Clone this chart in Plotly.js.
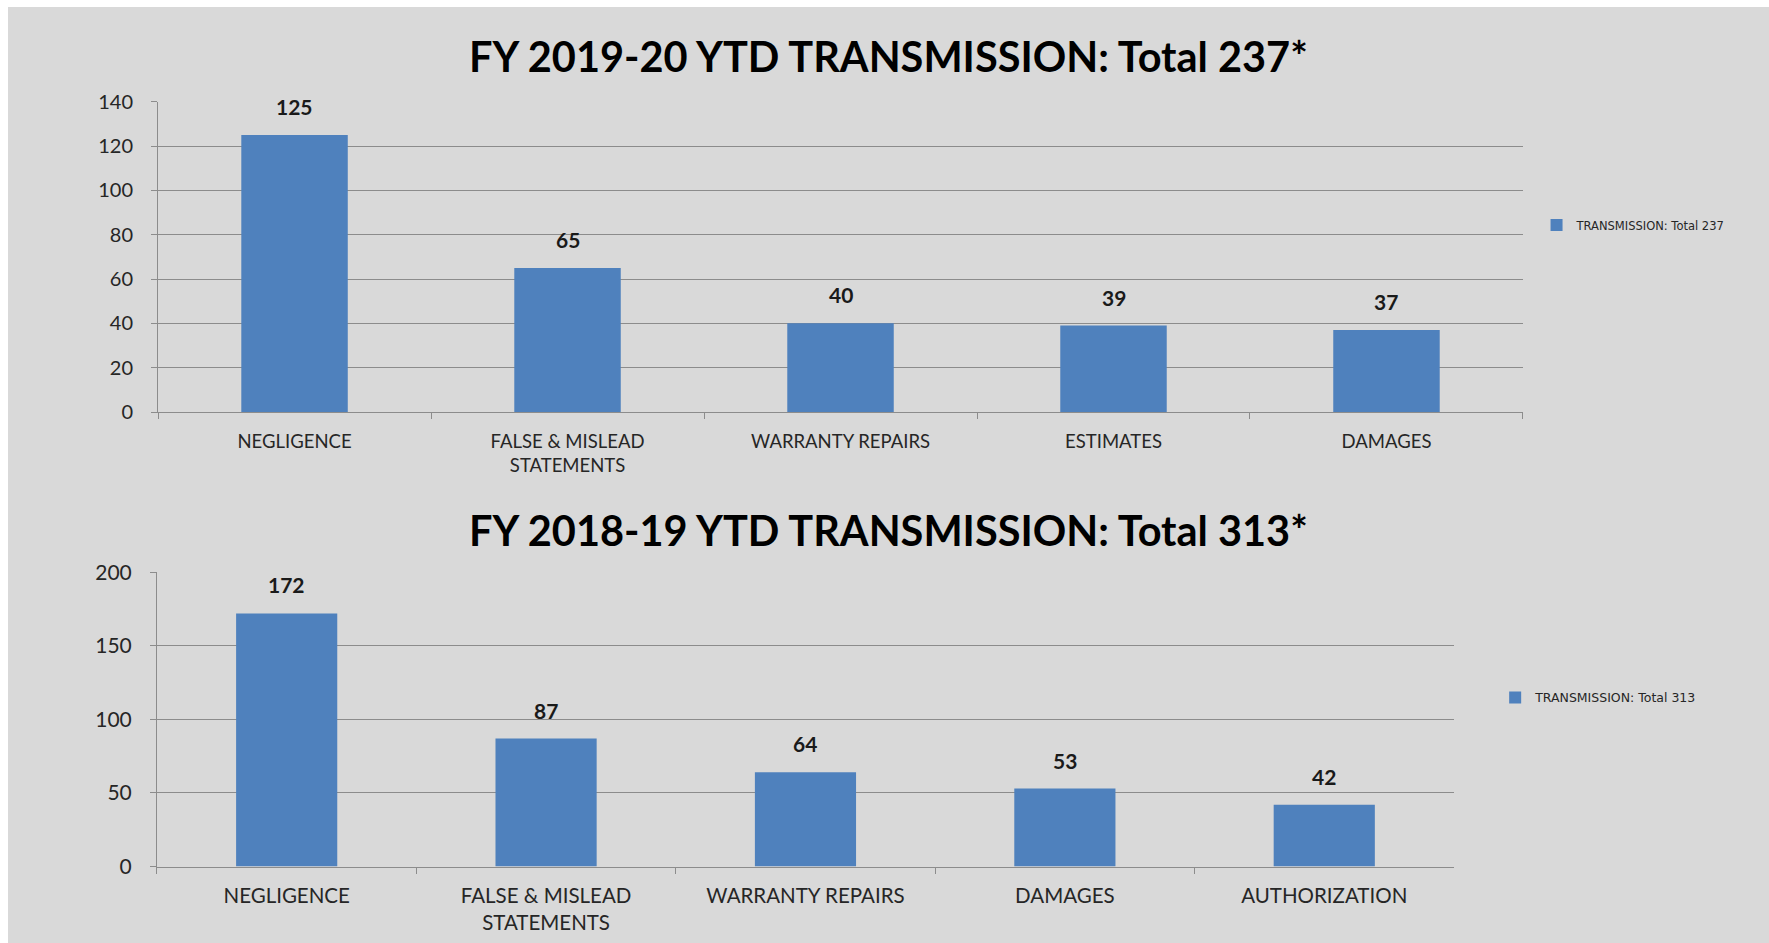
<!DOCTYPE html>
<html>
<head>
<meta charset="utf-8">
<script src="https://cdn.plot.ly/plotly-3.0.1.min.js"></script>
<style>
    body { margin: 0; background: #ffffff; }
    #transmissionChart { position: absolute; left: 8px; top: 7px; width: 1761px; height: 936px; }
</style>
</head>
<body>
<div id="transmissionChart"></div>
<script>
// FY 2019-20 (top chart)
var categories1920 = ['NEGLIGENCE', 'FALSE & MISLEAD<br>STATEMENTS', 'WARRANTY REPAIRS', 'ESTIMATES', 'DAMAGES'];
var values1920 = [125, 65, 40, 39, 37];
var title1920 = 'FY 2019-20 YTD TRANSMISSION: Total 237*';
var legend1920 = 'TRANSMISSION: Total 237';

// FY 2018-19 (bottom chart)
var categories1819 = ['NEGLIGENCE', 'FALSE & MISLEAD<br>STATEMENTS', 'WARRANTY REPAIRS', 'DAMAGES', 'AUTHORIZATION'];
var values1819 = [172, 87, 64, 53, 42];
var title1819 = 'FY 2018-19 YTD TRANSMISSION: Total 313*';
var legend1819 = 'TRANSMISSION: Total 313';

var barColor = '#4F81BD';
var gridColor = '#8c8c8c';
var textColor = '#262626';

function valueLabels(cats, vals, xref, yref) {
    var out = [];
    for (var i = 0; i < cats.length; i++) {
        out.push({
            x: cats[i], y: vals[i], xref: xref, yref: yref,
            text: String(vals[i]), showarrow: false,
            yanchor: 'bottom', yshift: 14,
            font: { family: 'Lato, sans-serif', size: 21, color: '#1a1a1a', weight: 'bold' }
        });
    }
    return out;
}

function drawCharts() {
    var config = { responsive: false, displayModeBar: false };

    var trace1 = {
        x: categories1920, y: values1920, name: legend1920, type: 'bar',
        xaxis: 'x', yaxis: 'y', legend: 'legend',
        marker: { color: barColor }, hoverinfo: 'skip'
    };
    var trace2 = {
        x: categories1819, y: values1819, name: legend1819, type: 'bar',
        xaxis: 'x2', yaxis: 'y2', legend: 'legend2',
        marker: { color: barColor }, hoverinfo: 'skip'
    };

    var xCommon = {
        type: 'category', showline: true, linecolor: gridColor, linewidth: 1,
        ticks: 'outside', tickson: 'boundaries', ticklen: 6, tickcolor: gridColor,
        showgrid: false, zeroline: false
    };
    var yCommon = {
        showline: true, linecolor: gridColor, linewidth: 1,
        ticks: 'outside', ticklen: 6, tickcolor: gridColor,
        gridcolor: gridColor, gridwidth: 1, zeroline: false, ticklabelstandoff: 14
    };

    var titleFont = { family: 'Lato, sans-serif', size: 41.5, color: '#000000' };
    var annotations = [
        { text: '<b>' + title1920 + '</b>', xref: 'paper', yref: 'paper', x: 0.5, y: 0.9476,
          xanchor: 'center', yanchor: 'middle', showarrow: false, font: titleFont },
        { text: '<b>' + title1819 + '</b>', xref: 'paper', yref: 'paper', x: 0.5, y: 0.4412,
          xanchor: 'center', yanchor: 'middle', showarrow: false, font: titleFont }
    ];
    annotations = annotations.concat(valueLabels(categories1920, values1920, 'x', 'y'));
    annotations = annotations.concat(valueLabels(categories1819, values1819, 'x2', 'y2'));

    var layout = {
        width: 1761, height: 936,
        margin: { l: 0, r: 0, t: 0, b: 0 },
        paper_bgcolor: '#d9d9d9', plot_bgcolor: '#d9d9d9',
        font: { family: 'Lato, sans-serif', color: textColor },
        bargap: 0.61,
        showlegend: true,
        xaxis: Object.assign({}, xCommon, { domain: [0.0852, 0.8603], anchor: 'y',
            ticklabelstandoff: 13, tickfont: { size: 18.5, color: textColor } }),
        yaxis: Object.assign({}, yCommon, { domain: [0.5673, 0.8988], anchor: 'x',
            range: [0, 140], dtick: 20, tickfont: { size: 20, color: textColor } }),
        xaxis2: Object.assign({}, xCommon, { domain: [0.0846, 0.8211], anchor: 'y2',
            ticklabelstandoff: 11, tickfont: { size: 20.5, color: textColor } }),
        yaxis2: Object.assign({}, yCommon, { domain: [0.0817, 0.3961], anchor: 'x2',
            range: [0, 200], dtick: 50, tickfont: { size: 21, color: textColor } }),
        legend: { x: 0.868, y: 0.767, xanchor: 'left', yanchor: 'middle',
            bgcolor: 'rgba(0,0,0,0)', font: { family: 'DejaVu Sans, sans-serif', size: 11.5, color: textColor } },
        legend2: { x: 0.8445, y: 0.2618, xanchor: 'left', yanchor: 'middle',
            bgcolor: 'rgba(0,0,0,0)', font: { family: 'DejaVu Sans, sans-serif', size: 12.5, color: textColor } },
        annotations: annotations
    };

    Plotly.newPlot('transmissionChart', [trace1, trace2], layout, config);
}

drawCharts();
</script>
</body>
</html>
